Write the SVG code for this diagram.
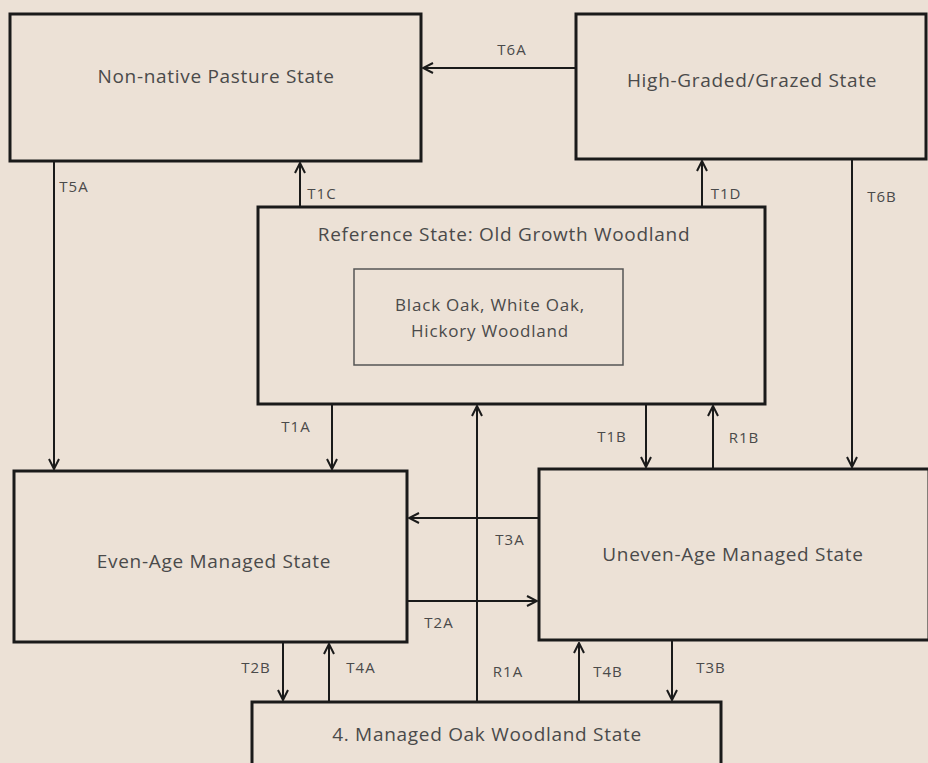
<svg xmlns="http://www.w3.org/2000/svg" width="928" height="763" viewBox="0 0 928 763">
<defs>
<style>
.box{fill:#ece1d6;stroke:#1a1a1a;stroke-width:3}
.inner{fill:#ece1d6;stroke:#555;stroke-width:1.5}
.t{font-family:"Open Sans","Liberation Sans",sans-serif;font-size:19px;letter-spacing:0.7px;fill:#4a4a4a;text-anchor:middle}
.i{font-family:"Open Sans","Liberation Sans",sans-serif;font-size:17px;letter-spacing:0.8px;fill:#4a4a4a;text-anchor:middle}
.l{font-family:"Open Sans","Liberation Sans",sans-serif;font-size:15px;letter-spacing:1px;fill:#4a4a4a;text-anchor:middle}
.c{stroke:#1a1a1a;stroke-width:2;fill:none;marker-end:url(#ah)}
</style>
<marker id="ah" viewBox="0 0 12 12" refX="11" refY="6" markerWidth="12" markerHeight="12" markerUnits="userSpaceOnUse" orient="auto">
<polyline points="1,1 11,6 1,11" fill="none" stroke="#1a1a1a" stroke-width="2"/>
</marker>
</defs>
<rect width="928" height="763" fill="#ece1d6"/>
<g id="connectors">
<line class="c" x1="576" y1="68" x2="423" y2="68"/>
<line class="c" x1="300" y1="207" x2="300" y2="163"/>
<line class="c" x1="702" y1="207" x2="702" y2="161"/>
<line class="c" x1="54" y1="162" x2="54" y2="469"/>
<line class="c" x1="852" y1="159" x2="852" y2="467"/>
<line class="c" x1="332" y1="405" x2="332" y2="469"/>
<line class="c" x1="646" y1="405" x2="646" y2="467"/>
<line class="c" x1="713" y1="469" x2="713" y2="406"/>
<line class="c" x1="538" y1="518" x2="409" y2="518"/>
<line class="c" x1="408" y1="601" x2="537" y2="601"/>
<line class="c" x1="477" y1="702" x2="477" y2="406"/>
<line class="c" x1="283" y1="642" x2="283" y2="700"/>
<line class="c" x1="329" y1="702" x2="329" y2="644"/>
<line class="c" x1="579" y1="702" x2="579" y2="643"/>
<line class="c" x1="672" y1="641" x2="672" y2="700"/>
<text class="l" x="512" y="55">T6A</text>
<text class="l" x="74" y="192">T5A</text>
<text class="l" x="322" y="199">T1C</text>
<text class="l" x="726" y="199">T1D</text>
<text class="l" x="882" y="202">T6B</text>
<text class="l" x="296" y="432">T1A</text>
<text class="l" x="612" y="442">T1B</text>
<text class="l" x="744" y="443">R1B</text>
<text class="l" x="510" y="545">T3A</text>
<text class="l" x="439" y="628">T2A</text>
<text class="l" x="256" y="673">T2B</text>
<text class="l" x="361" y="673">T4A</text>
<text class="l" x="508" y="677">R1A</text>
<text class="l" x="608" y="677">T4B</text>
<text class="l" x="711" y="673">T3B</text>
</g>
<g id="nonnative">
<rect class="box" x="10" y="14" width="411" height="147"/>
<text class="t" x="216" y="83">Non-native Pasture State</text>
</g>
<g id="highgraded">
<rect class="box" x="576" y="14" width="350" height="145"/>
<text class="t" x="752" y="87">High-Graded/Grazed State</text>
</g>
<g id="reference">
<rect class="box" x="258" y="207" width="507" height="197"/>
<text class="t" x="504" y="241">Reference State: Old Growth Woodland</text>
<rect class="inner" x="354" y="269" width="269" height="96"/>
<text class="i" x="490" y="311">Black Oak, White Oak,</text>
<text class="i" x="490" y="337">Hickory Woodland</text>
</g>
<g id="evenage">
<rect class="box" x="14" y="471" width="393" height="171"/>
<text class="t" x="214" y="568">Even-Age Managed State</text>
</g>
<g id="unevenage">
<rect class="box" x="539" y="469" width="390" height="171"/>
<text class="t" x="733" y="561">Uneven-Age Managed State</text>
</g>
<g id="managedoak">
<rect class="box" x="252" y="702" width="469" height="70"/>
<text class="t" x="487" y="741">4. Managed Oak Woodland State</text>
</g>
</svg>
